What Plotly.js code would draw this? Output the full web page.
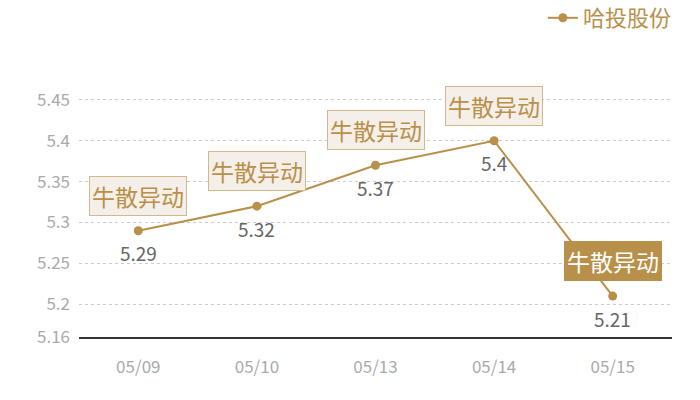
<!DOCTYPE html>
<html>
<head>
<meta charset="utf-8">
<script src="https://cdn.plot.ly/plotly-3.0.1.min.js"></script>
<style>
  html, body { margin: 0; padding: 0; background: #fff; }
  #chart { width: 700px; height: 400px; }
</style>
</head>
<body>
<div id="chart"></div>
<script>
let dates = ['05/09', '05/10', '05/13', '05/14', '05/15'];
let prices = [5.29, 5.32, 5.37, 5.4, 5.21];
let eventLabel = '牛散异动';
let highlightIndex = 4;
let seriesName = '哈投股份';
let yTicks = [5.16, 5.2, 5.25, 5.3, 5.35, 5.4, 5.45];

let gold = '#b8904a';
let fontFamily = '"Noto Sans CJK SC", "Noto Sans", sans-serif';

let trace = {
  x: dates,
  y: prices,
  name: seriesName,
  mode: 'lines+markers',
  line: { color: gold, width: 2 },
  marker: { color: gold, size: 9 },
  cliponaxis: false
};

// event tags above each point, value labels below
let notes = [];
dates.forEach((d, i) => {
  let hi = i === highlightIndex;
  notes.push({
    x: d,
    y: prices[i],
    text: eventLabel,
    showarrow: false,
    yshift: 35,
    font: { size: 23, color: hi ? '#fff' : gold, family: fontFamily },
    bgcolor: hi ? gold : '#f4efe8',
    bordercolor: hi ? gold : '#d2b98c',
    borderwidth: 1,
    borderpad: 2
  });
  notes.push({
    x: d,
    y: prices[i],
    text: String(prices[i]),
    showarrow: false,
    yshift: -22,
    font: { size: 19, color: '#666', family: fontFamily }
  });
});

Plotly.newPlot(document.getElementById('chart'), [trace], {
  width: 700,
  height: 400,
  margin: { l: 79, r: 28, t: 59, b: 63 },
  paper_bgcolor: '#fff',
  plot_bgcolor: '#fff',
  font: { family: fontFamily },
  showlegend: true,
  legend: {
    xref: 'container', yref: 'container',
    x: 0.967, xanchor: 'right',
    y: 0.955, yanchor: 'middle',
    orientation: 'h',
    itemwidth: 30,
    font: { size: 22, color: gold, family: fontFamily },
    bgcolor: 'rgba(0,0,0,0)'
  },
  xaxis: {
    type: 'category',
    range: [-0.5, 4.5],
    showgrid: false,
    showline: true,
    linecolor: '#333',
    linewidth: 1.5,
    ticks: '',
    ticklabelstandoff: 14,
    tickfont: { size: 17, color: '#aaa', family: fontFamily },
    zeroline: false
  },
  yaxis: {
    range: [5.16, 5.5],
    tickvals: yTicks,
    ticktext: yTicks.map(String),
    showgrid: true,
    gridcolor: '#ccc',
    griddash: 'dot',
    gridwidth: 1,
    showline: false,
    zeroline: false,
    ticks: '',
    ticklabelstandoff: 8,
    tickfont: { size: 17, color: '#aaa', family: fontFamily }
  },
  annotations: notes
}, { displayModeBar: false });
</script>
</body>
</html>
